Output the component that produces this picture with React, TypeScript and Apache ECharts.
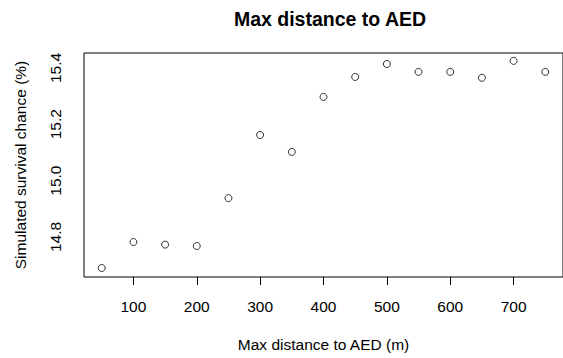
import React, { useEffect, useRef } from "react";
import * as echarts from "echarts";

const distances = [50, 100, 150, 200, 250, 300, 350, 400, 450, 500, 550, 600, 650, 700, 750];
const survival = [14.690, 14.782, 14.773, 14.768, 14.938, 15.162, 15.102, 15.297, 15.368, 15.414, 15.386, 15.386, 15.365, 15.425, 15.386];
const xTicks = [100, 200, 300, 400, 500, 600, 700];
const yTicks = [14.8, 15.0, 15.2, 15.4];

export default function App() {
  const ref = useRef<HTMLDivElement>(null);
  useEffect(() => {
    if (!ref.current) return;
    const chart = echarts.init(ref.current, null, { renderer: "svg" });
    const font = "Liberation Sans, Arial, sans-serif";
    chart.setOption({
      animation: false,
      backgroundColor: "#ffffff",
      title: {
        text: "Max distance to AED",
        left: 325,
        top: 4,
        textAlign: "center",
        textStyle: { fontFamily: font, fontSize: 19.5, fontWeight: "bold", color: "#000" },
      },
      grid: {
        left: 84,
        top: 53,
        right: -3,
        bottom: 81,
        show: true,
        borderColor: "#000",
        borderWidth: 1,
        backgroundColor: "transparent",
      },
      xAxis: {
        type: "value",
        min: 22,
        max: 778,
        name: "Max distance to AED (m)",
        nameLocation: "middle",
        nameGap: 59,
        nameTextStyle: { fontFamily: font, fontSize: 15.5, color: "#000" },
        axisLine: { show: false },
        splitLine: { show: false },
        axisTick: { show: true, length: 8, lineStyle: { color: "#000" }, customValues: xTicks },
        axisLabel: {
          fontFamily: font,
          fontSize: 15.5,
          color: "#000",
          margin: 21,
          customValues: xTicks,
        },
      },
      yAxis: {
        type: "value",
        min: 14.658,
        max: 15.453,
        name: "Simulated survival chance (%)",
        nameLocation: "middle",
        nameGap: 56,
        nameRotate: 90,
        nameTextStyle: { fontFamily: font, fontSize: 15.5, color: "#000" },
        axisLine: { show: false },
        splitLine: { show: false },
        axisTick: { show: false },
        axisLabel: {
          fontFamily: font,
          fontSize: 15.5,
          color: "#000",
          margin: 21,
          rotate: 90,
          customValues: yTicks,
          formatter: (v: number) => v.toFixed(1),
        },
      },
      series: [
        {
          type: "scatter",
          data: distances.map((d, i) => [d, survival[i]]),
          symbol: "circle",
          symbolSize: 7,
          itemStyle: { color: "#ffffff", borderColor: "#000", borderWidth: 1 },
        },
      ],
    });
    return () => chart.dispose();
  }, []);
  return <div ref={ref} style={{ width: 563, height: 358, position: "absolute", left: 0, top: 0 }} />;
}
